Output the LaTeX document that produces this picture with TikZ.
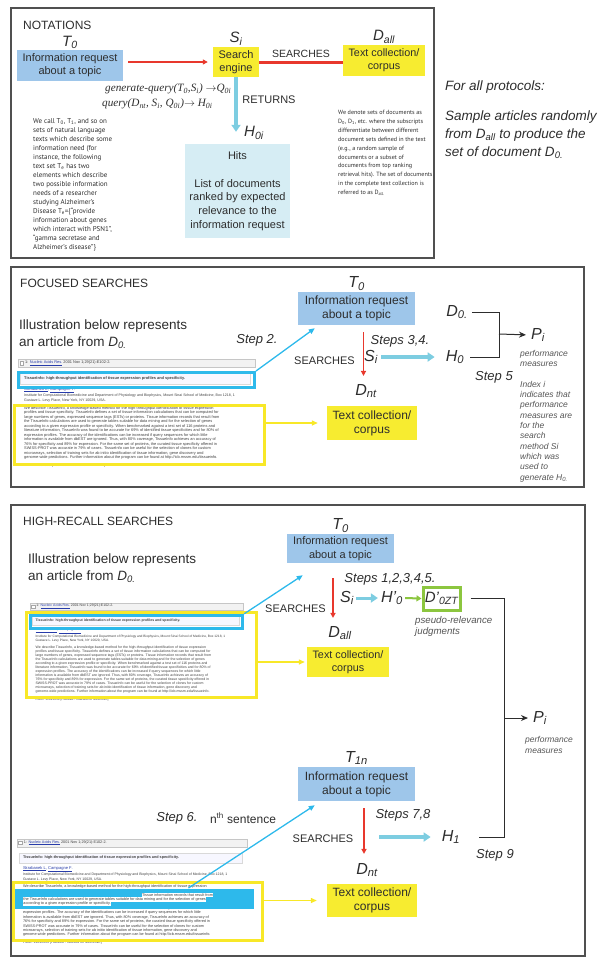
\documentclass[tikz,border=0pt]{standalone}
\usepackage{fontspec}
\setmainfont{Liberation Sans}
\newfontfamily\queryfont{Liberation Serif}
\newfontfamily\notefont{PT Sans}
\usepackage{tikz}
\usetikzlibrary{positioning, arrows.meta}

\definecolor{reqblue}{RGB}{158,198,234}
\definecolor{corpusyellow}{RGB}{247,236,48}
\definecolor{hitsblue}{RGB}{214,237,244}
\definecolor{searchred}{RGB}{232,56,45}
\definecolor{returncyan}{RGB}{125,205,225}
\definecolor{markcyan}{RGB}{45,185,235}
\definecolor{markyellow}{RGB}{248,232,40}
\definecolor{judgegreen}{RGB}{140,198,63}
\definecolor{framegray}{RGB}{80,80,80}
\definecolor{inkgray}{RGB}{45,45,45}
\definecolor{notegray}{RGB}{85,85,85}
\definecolor{linkblue}{RGB}{40,60,170}

\newcommand{\fsz}[2]{\fontsize{#1}{#2}\selectfont}
\setlength{\fboxsep}{0.5pt}

\tikzset{
  panel/.style={draw=framegray, line width=1.4pt},
  request/.style={fill=reqblue, text=inkgray, align=center, inner sep=0pt},
  corpus/.style={fill=corpusyellow, text=inkgray, align=center, inner sep=0pt},
  setname/.style={font=\fsz{16}{18}\itshape, text=inkgray, inner sep=1pt},
  heading/.style={font=\fsz{12}{14}, text=inkgray, anchor=west, inner sep=0pt},
  steplabel/.style={font=\fsz{13}{15}\itshape, text=inkgray, inner sep=0pt},
  capslabel/.style={font=\fsz{11}{13}, text=inkgray, inner sep=0pt},
  smallnote/.style={font=\fsz{8.5}{10.3}\itshape, text=notegray, align=left, anchor=west, inner sep=0pt},
  searcharrow/.style={draw=searchred, line width=1.5pt, -{Triangle[length=5pt,width=5pt]}},
  returnarrow/.style={draw=returncyan, line width=3.5pt, -{Triangle[length=7pt,width=9pt]}},
  pointer/.style={line width=1.3pt, -{Triangle[length=6pt,width=5pt]}},
  joinline/.style={draw=inkgray, line width=1pt},
  hilite/.style={draw, line width=3pt, inner sep=0pt, anchor=north west},
  pmtext/.style={font=\fsz{3.9}{4.5}, text=black!75, align=left, anchor=west, inner sep=0pt},
}

\newcommand{\abstractlines}{%
{We describe TissueInfo, a knowledge-based method for the high-throughput identification of tissue expression},
{profiles and tissue specificity. TissueInfo defines a set of tissue information calculations that can be computed for},
{large numbers of genes, expressed sequence tags (ESTs) or proteins. Tissue information records that result from},
{the TissueInfo calculations are used to generate tables suitable for data mining and for the selection of genes},
{according to a given expression profile or specificity. When benchmarked against a test set of 116 proteins and},
{literature information, TissueInfo was found to be accurate for 69\% of identified tissue specificities and for 80\% of},
{expression profiles. The accuracy of the identifications can be increased if query sequences for which little},
{information is available from dbEST are ignored. Thus, with 80\% coverage, TissueInfo achieves an accuracy of},
{76\% for specificity and 89\% for expression. For the same set of proteins, the curated tissue specificity offered in},
{SWISS-PROT was accurate in 79\% of cases. TissueInfo can be useful for the selection of clones for custom},
{microarrays, selection of training sets for ab initio identification of tissue information, gene discovery and},
{genome-wide predictions. Further information about the program can be found at http://icb.mssm.edu/tissueinfo.}}

% #2..#3: abstract lines left out (hidden under a highlight)
\newcommand{\pubmedpage}[3]{%
  \node[draw=gray!45, fill=gray!10, minimum width=237, minimum height=8, anchor=north west, inner sep=0] (#1-bar) at (0,0) {};
  \node[draw=gray!70, fill=white, minimum width=3.5, minimum height=3.5, inner sep=0] (#1-tick) at (3.5,4) {};
  \node[pmtext] (#1-src) at (7,4) {1: \textcolor{linkblue}{\underline{Nucleic Acids Res.}} 2001 Nov 1;29(21):E102-2.};
  \node[draw=gray!30, fill=blue!3, minimum width=230, minimum height=11, anchor=north west, inner sep=0] (#1-headbar) at (2,14) {};
  \node[pmtext, font=\fsz{3.9}{4.5}\bfseries] (#1-title) at (6,19.5) {TissueInfo: high-throughput identification of tissue expression profiles and specificity.};
  \node[pmtext, text=linkblue, font=\fsz{4.2}{5}] (#1-auth) at (6,31) {\underline{Skrabanek L}, \underline{Campagne F}.};
  \node[pmtext, font=\fsz{3.6}{5}] (#1-inst) at (6,39.5) {Institute for Computational Biomedicine and Department of Physiology and Biophysics, Mount Sinai School of Medicine, Box 1218, 1\\Gustave L. Levy Place, New York, NY 10029, USA.};
  \foreach \txt [count=\k] in \abstractlines {
    \pgfmathtruncatemacro\shown{(\k<#2)||(\k>#3)}
    \ifnum\shown=1 \node[pmtext] (#1-line\k) at (6,{44.5+4.5*\k}) {\txt};\fi
  }
  \node[pmtext, font=\fsz{3.6}{5}] (#1-pmid) at (6,107) {PMID: 11691939 [PubMed - indexed for MEDLINE]};
}

\begin{document}
\begin{tikzpicture}[x=1pt, y=-1pt]
\useasboundingbox (0,0) rectangle (600,967);

% notations
\draw[panel] (11,8) rectangle (434,258);
\node[heading] (nothead) at (23,25) {NOTATIONS};
\node[request, font=\fsz{11}{13}, minimum width=106, minimum height=31] (req1) at (70,65.5) {Information request\\about a topic};
\node[setname, font=\fsz{15}{17}\itshape, above=0pt of req1] (t0a) {T\textsubscript{0}};
\node[corpus, font=\fsz{11}{13}, minimum width=46, minimum height=30] (eng1) at (236,62) {Search\\engine};
\node[setname, font=\fsz{15}{17}\itshape, above=0pt of eng1] (si1) {S\textsubscript{i}};
\node[corpus, font=\fsz{10.8}{13}, minimum width=82, minimum height=31] (corp1) at (384,60.5) {Text collection/\\corpus};
\node[setname, font=\fsz{15}{17}\itshape, above=0pt of corp1] (dall1) {D\textsubscript{all}};
\draw[searcharrow, shorten <=5pt, shorten >=5pt] (req1.east |- eng1) -- (eng1.west);
\draw[draw=searchred, line width=3pt] (eng1.east) -- (corp1.west |- eng1.east)
  node[capslabel, font=\fsz{10.5}{12}, midway, above=3pt] (srch1) {SEARCHES};
\node[fill=hitsblue, text=inkgray, align=center, font=\fsz{11}{13.7}, minimum width=105, minimum height=94, inner sep=0] (hits1) at (237.5,191) {Hits\\[13.7pt]List of documents\\ranked by expected\\relevance to the\\information request};
\node[setname, font=\fsz{15}{17}\itshape] (h0i) at (254,133) {H\textsubscript{0i}};
\draw[returnarrow, shorten >=12pt] (eng1.south) -- (eng1.south |- hits1.north);
\node[capslabel] (ret1) at (269,100) {RETURNS};
\node[font=\queryfont\fsz{11.2}{13}\itshape, text=inkgray, anchor=west, inner sep=0] (genq) at (105,89) {generate-query(T\textsubscript{0},S\textsubscript{i}) $\rightarrow$Q\textsubscript{0i}};
\node[font=\queryfont\fsz{11.2}{13}\itshape, text=inkgray, anchor=west, inner sep=0] (runq) at (102,104) {query(D\textsubscript{nt}, S\textsubscript{i}, Q\textsubscript{0i})$\rightarrow$ H\textsubscript{0i}};
\node[font=\notefont\fsz{7}{9}, text=inkgray, align=left, anchor=west, inner sep=0] (callnote) at (33,185) {We call T\textsubscript{0}, T\textsubscript{1}, and so on\\sets of natural language\\texts which describe some\\information need (for\\instance, the following\\text set T\textsubscript{e} has two\\elements which describe\\two possible information\\needs of a researcher\\studying Alzheimer’s\\Disease T\textsubscript{e}=\{“provide\\information about genes\\which interact with PSN1”,\\“gamma secretase and\\Alzheimer’s disease”\}};
\node[font=\notefont\fsz{6.1}{8.9}, text=inkgray, align=left, anchor=west, inner sep=0] (denotenote) at (338,153) {We denote sets of documents as\\D\textsubscript{0}, D\textsubscript{1}, etc. where the subscripts\\differentiate between different\\document sets defined in the text\\(e.g., a random sample of\\documents or a subset of\\documents from top ranking\\retrieval hits). The set of documents\\in the complete text collection is\\referred to as D\textsubscript{all.}};
\node[font=\fsz{13.5}{16}\itshape, text=inkgray, anchor=west, inner sep=0] (protohead) at (445,87) {For all protocols:};
\node[font=\fsz{13.5}{18}\itshape, text=inkgray, align=left, anchor=west, inner sep=0] (protobody) at (445,135) {Sample articles randomly\\from D\textsubscript{all} to produce the\\set of document D\textsubscript{0.}};

% focused searches
\draw[panel] (11,267) rectangle (584,487);
\node[heading] (fochead) at (20,283) {FOCUSED SEARCHES};
\node[font=\fsz{13.5}{17}, text=inkgray, align=left, anchor=west, inner sep=0] (focintro) at (19,334.5) {Illustration below represents\\an article from \textit{D\textsubscript{0.}}};
\node[steplabel] (step2) at (257,340) {Step 2.};
\node[request, font=\fsz{12}{14}, minimum width=117, minimum height=33] (req2) at (356.5,308.5) {Information request\\about a topic};
\node[setname, above=0pt of req2] (t0b) {T\textsubscript{0}};
\node[setname] (dnt2) at (366,391) {D\textsubscript{nt}};
\node[corpus, font=\fsz{12}{14}, minimum width=90, minimum height=34] (corp2) at (372,423) {Text collection/\\corpus};
\draw[searcharrow, shorten <=7pt, shorten >=7pt] ([xshift=7pt]req2.south) -- ([xshift=7pt]req2.south |- dnt2.north);
\node[capslabel] (srch2) at (324.5,361) {SEARCHES};
\node[steplabel] (step34) at (400,341) {Steps 3,4.};
\node[setname] (si2) at (371,357) {S\textsubscript{i}};
\node[setname] (h02) at (455,357) {H\textsubscript{0}};
\node[setname] (d02) at (457,312) {D\textsubscript{0.}};
\draw[returnarrow, shorten <=2pt, shorten >=10pt] (si2.east) -- (h02.west);
\coordinate (join2) at (499,334);
\draw[joinline, shorten <=3pt] (d02.east) -| (join2);
\draw[joinline, shorten <=5pt] (h02.east) -| (join2);
\node[setname] (pi2) at (538,335) {P\textsubscript{i}};
\draw[joinline, -{Stealth[length=7pt,width=6pt]}, shorten >=4pt] (join2) -- (pi2.west);
\node[smallnote] (perf2) at (520,358.5) {performance\\measures};
\node[steplabel] (step5) at (494,377) {Step 5};
\node[smallnote] (index2) at (520,431.5) {Index i\\indicates that\\performance\\measures are\\for the\\search\\method Si\\which was\\used to\\generate H\textsubscript{0.}};
\begin{scope}[shift={(18,359)}, transform shape]
  \pubmedpage{pm1}{13}{13}
  \node[hilite, draw=markcyan, minimum width=236, minimum height=15] (title1) at (-1,12) {};
  \node[hilite, draw=markyellow, minimum width=250, minimum height=59] (abs1) at (-5,45) {};
\end{scope}
\draw[pointer, markcyan] (title1.north east) -- ([shift={(17,3)}]req2.south west);
\draw[pointer, markyellow, shorten >=9pt] (abs1.east |- corp2.west) -- (corp2.west);

% high-recall searches
\draw[panel] (11,505) rectangle (585,956);
\node[heading] (hrhead) at (23,521) {HIGH-RECALL SEARCHES};
\node[font=\fsz{13.5}{17}, text=inkgray, align=left, anchor=west, inner sep=0] (hrintro) at (28,568) {Illustration below represents\\an article from \textit{D\textsubscript{0.}}};
\node[request, font=\fsz{11}{14}, minimum width=107, minimum height=29] (req3) at (340.5,548.5) {Information request\\about a topic};
\node[setname, above=0pt of req3] (t0c) {T\textsubscript{0}};
\node[setname] (dall3) at (340,633) {D\textsubscript{all}};
\node[corpus, font=\fsz{10.8}{13}, minimum width=82, minimum height=30] (corp3) at (348,662) {Text collection/\\corpus};
\draw[searcharrow, shorten <=15pt, shorten >=7pt] ([xshift=-7.5pt]req3.south) -- ([xshift=-7.5pt]req3.south |- dall3.north);
\node[capslabel] (srch3) at (295.5,609) {SEARCHES};
\node[steplabel] (step15) at (390,579) {Steps 1,2,3,4,5.};
\node[setname] (si3) at (347,598) {S\textsubscript{i}};
\node[setname] (h3) at (392,598) {H’\textsubscript{0}};
\node[setname, draw=judgegreen, line width=3pt, font=\fsz{15}{17}\itshape, minimum width=37, minimum height=23, inner sep=0] (dzt) at (441.5,598.5) {D’\textsubscript{0ZT}};
\draw[returnarrow, line width=3pt, shorten <=1pt, shorten >=2pt] (si3.east) -- (h3.west);
\draw[draw=judgegreen, line width=2pt, -{Triangle[length=5pt,width=6pt]}, shorten <=1pt] (h3.east) -- (dzt.west);
\node[smallnote, font=\fsz{9.7}{11.5}\itshape] (pseudo) at (415,626.5) {pseudo-relevance\\judgments};
\coordinate (join3) at (504,718);
\draw[joinline, shorten <=9pt] (dzt.east) -| (join3);
\node[setname] (pi3) at (540,718) {P\textsubscript{i}};
\draw[joinline, -{Stealth[length=7pt,width=6pt]}, shorten >=4pt] (join3) -- (pi3.west);
\node[smallnote] (perf3) at (525,745) {performance\\measures};
\begin{scope}[shift={(30,603)}, scale=0.9, transform shape]
  \pubmedpage{pm2}{13}{13}
  \node[hilite, draw=markcyan, minimum width=236, minimum height=15] (title2) at (-1,12) {};
  \node[hilite, draw=markyellow, minimum width=255, minimum height=95] (abs2) at (-5,9) {};
\end{scope}
\draw[pointer, markcyan] (title2.north east) -- ([shift={(16,12)}]req3.south west);
\draw[pointer, markyellow, shorten >=2pt] (abs2.east |- corp3.west) -- (corp3.west);

\node[request, font=\fsz{12}{14}, minimum width=117, minimum height=34] (req4) at (356.5,784) {Information request\\about a topic};
\node[setname, above=1pt of req4] (t1n) {T\textsubscript{1n}};
\node[setname] (dnt4) at (367,870) {D\textsubscript{nt}};
\node[corpus, font=\fsz{12}{14}, minimum width=90, minimum height=33] (corp4) at (372,900.5) {Text collection/\\corpus};
\draw[searcharrow, shorten <=7pt, shorten >=8pt] ([xshift=7.5pt]req4.south) -- ([xshift=7.5pt]req4.south |- dnt4.north);
\node[steplabel] (step78) at (403,815) {Steps 7,8};
\node[capslabel] (srch4) at (323,839) {SEARCHES};
\node[setname] (h1) at (451,837) {H\textsubscript{1}};
\coordinate (hits4) at (379,837);
\draw[returnarrow, shorten >=10pt] (hits4) -- (h1.west);
\draw[joinline, shorten <=18pt] (h1.east) -| (join3);
\node[steplabel] (step9) at (495,855) {Step 9};
\node[steplabel] (step6) at (177,818) {Step 6.};
\node[font=\fsz{12}{14}, text=inkgray, inner sep=0] (nth) at (243,818) {n\textsuperscript{th} sentence};
\begin{scope}[shift={(17,839)}, scale=0.97, transform shape]
  \pubmedpage{pm3}{2}{5}
  \node[hilite, draw=none, fill=markcyan, minimum width=248, minimum height=20.5] (sent3) at (-5,50.5) {};
  \node[pmtext] (sent3a) at (6,58) {\phantom{large numbers of genes, expressed sequence tags (ESTs) or proteins. }\colorbox{white}{Tissue information records that result from}};
  \node[pmtext] (sent3b) at (6,62.5) {\colorbox{white}{the TissueInfo calculations are used to generate tables suitable for data mining and for the selection of genes}};
  \node[pmtext] (sent3c) at (6,67) {\colorbox{white}{according to a given expression profile or specificity.}};
  \node[hilite, draw=markyellow, minimum width=257, minimum height=60] (abs3) at (-5,43) {};
\end{scope}
\draw[pointer, markcyan] ([xshift=54.6pt]sent3.north) -- ([shift={(17,4)}]req4.south west);
\draw[pointer, markyellow, shorten >=10pt] (abs3.east |- corp4.west) -- (corp4.west);
\end{tikzpicture}
\end{document}
